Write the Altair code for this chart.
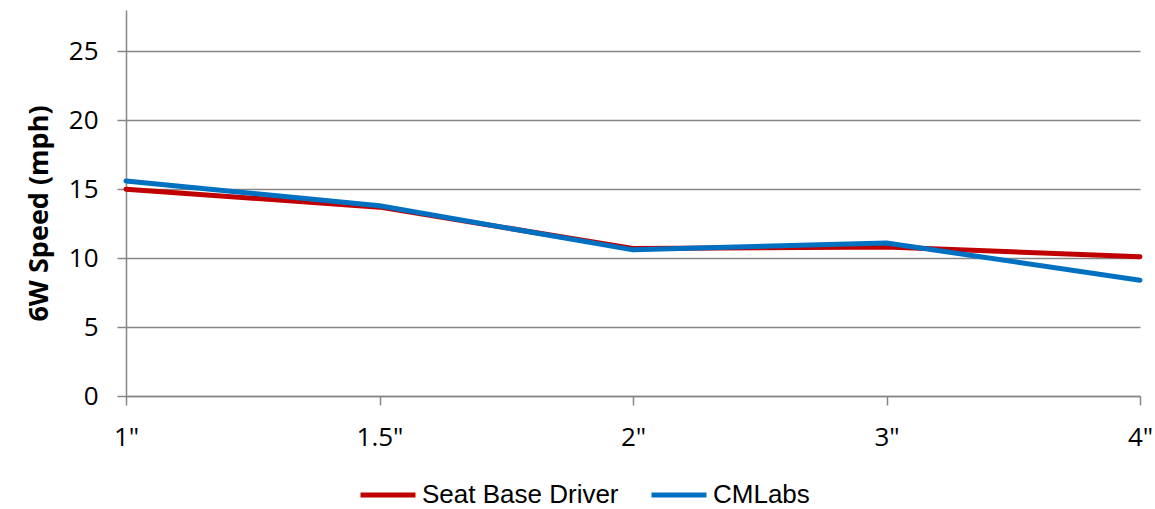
import altair as alt
import pandas as pd

categories = ['1"', '1.5"', '2"', '3"', '4"']
seat_base_driver = [15.0, 13.7, 10.7, 10.8, 10.1]
cmlabs = [15.6, 13.8, 10.6, 11.1, 8.4]
series_names = ["Seat Base Driver", "CMLabs"]
series_colors = ["#C00000", "#0070C0"]
y_ticks = [0, 5, 10, 15, 20, 25]

rows = []
for name, vals in zip(series_names, [seat_base_driver, cmlabs]):
    for c, v in zip(categories, vals):
        rows.append({"size": c, "speed": v, "series": name})
df = pd.DataFrame(rows)

tick_font = "Open Sans"

chart = alt.Chart(df).mark_line(strokeWidth=5, strokeCap="round", strokeJoin="round").encode(
    x=alt.X("size:N", sort=categories,
            scale=alt.Scale(type="point", padding=0),
            axis=alt.Axis(title=None, labelAngle=0, labelFont=tick_font, labelFontSize=26,
                          labelColor="#000000", labelPadding=19, tickSize=9,
                          tickColor="#868686", domainColor="#868686", domainWidth=1.5,
                          tickWidth=1.5, grid=False, labelFlush=False)),
    y=alt.Y("speed:Q", scale=alt.Scale(domain=[0, 28], nice=False),
            axis=alt.Axis(title="6W Speed (mph)", values=y_ticks, labelFont=tick_font,
                          labelFontSize=26, labelColor="#000000", labelPadding=19,
                          tickSize=9, tickColor="#868686", tickWidth=1.5,
                          domainColor="#868686", domainWidth=1.5,
                          gridColor="#868686", gridWidth=1.5,
                          titleFont=tick_font, titleFontSize=27, titleFontWeight="bold",
                          titleColor="#000000", titleAngle=-90,
                          titleX=-73, titleY=203, titleBaseline="bottom", titleAlign="center")),
    color=alt.Color("series:N", sort=series_names,
                    scale=alt.Scale(domain=series_names, range=series_colors),
                    legend=alt.Legend(title=None, orient="none", direction="horizontal",
                                      legendX=232, legendY=455,
                                      symbolType="stroke", symbolSize=3025,
                                      symbolStrokeWidth=5, labelFont="Liberation Sans",
                                      labelFontSize=26, labelColor="#000000",
                                      labelLimit=400,
                                      labelOffset=4, columnPadding=22)),
).properties(
    width=1014, height=386,
    background="white",
    autosize=alt.AutoSizeParams(type="none"),
    padding={"left": 126, "top": 10, "right": 15, "bottom": 113},
).configure_view(stroke=None)

chart.save("out.html", embed_options={"renderer": "svg", "actions": False})
